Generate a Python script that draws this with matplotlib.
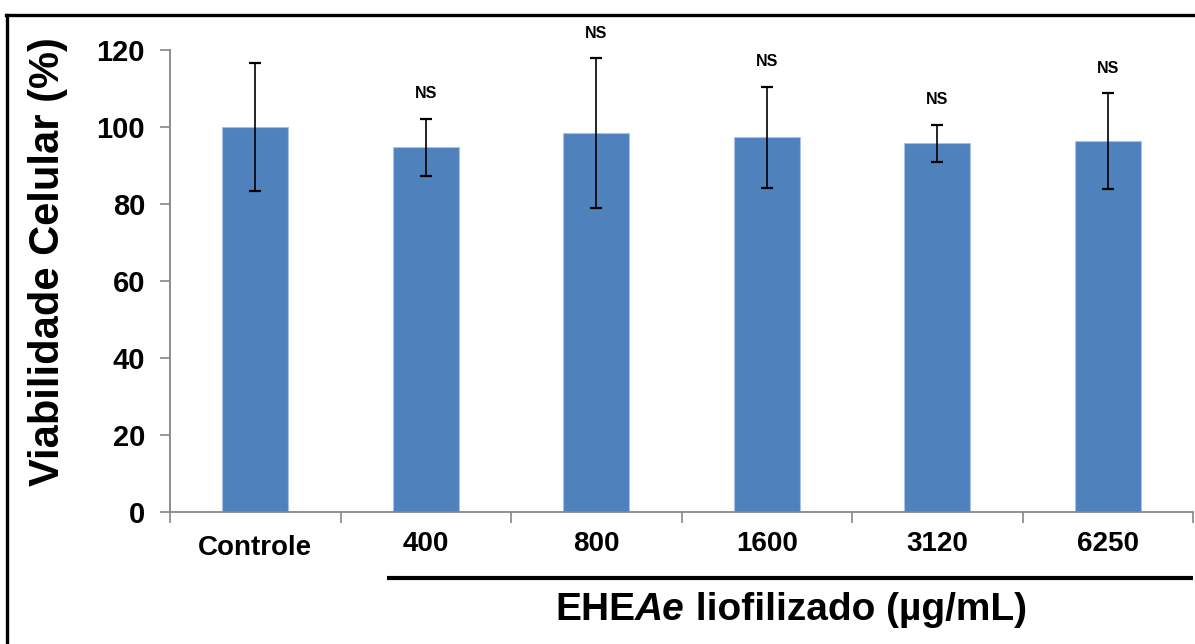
import numpy as np
import matplotlib
matplotlib.use("Agg")
import matplotlib.pyplot as plt
from matplotlib.lines import Line2D

plt.rcParams['font.family'] = ['Liberation Sans', 'DejaVu Sans']

# dados de viabilidade celular
categorias = ['Controle', '400', '800', '1600', '3120', '6250']
viabilidade = [100.0, 94.7, 98.4, 97.3, 95.8, 96.3]
desvio = [16.5, 7.5, 19.5, 13.1, 4.8, 12.5]
significancia = ['', 'NS', 'NS', 'NS', 'NS', 'NS']

azul = '#4F81BD'
cinza = '#868686'

fig = plt.figure(figsize=(11.95, 6.44), dpi=100)
ax = fig.add_axes([170 / 1195, 1 - 512 / 644, 1023 / 1195, 462 / 644])

x = np.arange(len(categorias))
ax.bar(x, viabilidade, width=0.39, color=azul, edgecolor='#A9C1E2', linewidth=0.8, zorder=2)
ax.errorbar(x, viabilidade, yerr=desvio, fmt='none', ecolor='black',
            elinewidth=1.2, capsize=4, capthick=1.6, zorder=3)

for xi, v, d, s in zip(x, viabilidade, desvio, significancia):
    if s:
        ax.annotate(s, (xi, v + d), xytext=(0, 18), textcoords='offset points',
                    ha='center', va='center', fontsize=11.5, fontweight='bold',
                    annotation_clip=False)

ax.set_xlim(-0.5, len(categorias) - 0.5)
ax.set_ylim(0, 120)
ax.set_yticks(np.arange(0, 121, 20))
ax.tick_params(axis='y', direction='out', length=7, width=1.2, color=cinza,
               labelsize=21, pad=11)
for lbl in ax.get_yticklabels():
    lbl.set_fontweight('bold')

ax.set_xticks(x)
ax.set_xticklabels(categorias, fontsize=20, fontweight='bold')
ax.tick_params(axis='x', length=0, pad=14)
ax.set_xticks(np.arange(-0.5, len(categorias)), minor=True)
ax.tick_params(axis='x', which='minor', direction='out', length=8, width=1.2, color=cinza)
# "Controle" fica um pouco mais abaixo que as concentrações
ax.get_xticklabels()[0].set_y(-0.008)

for lado in ['top', 'right']:
    ax.spines[lado].set_visible(False)
for lado in ['left', 'bottom']:
    ax.spines[lado].set_color(cinza)
    ax.spines[lado].set_linewidth(1.3)

# rótulo do eixo y
fig.text(48 / 1195, 1 - 262 / 644, 'Viabilidade Celular (%)', rotation=90,
         ha='center', va='center', fontsize=30, fontweight='bold')

# linha que agrupa as concentrações
fig.add_artist(Line2D([387 / 1195, 1193 / 1195], [1 - 578 / 644] * 2,
                      color='black', linewidth=3, solid_capstyle='butt'))

# título do eixo x com "Ae" em itálico
partes = [('EHE', 'normal'), ('Ae', 'italic'), (' liofilizado (µg/mL)', 'normal')]
textos = []
for txt, estilo in partes:
    textos.append(fig.text(0, 1 - 610 / 644, txt, ha='left', va='center',
                           fontsize=28, fontweight='bold', fontstyle=estilo))
fig.canvas.draw()
rend = fig.canvas.get_renderer()
larguras = [t.get_window_extent(rend).width for t in textos]
pos = 791 - sum(larguras) / 2
for t, w in zip(textos, larguras):
    t.set_x(pos / 1195)
    pos += w

# moldura
fig.add_artist(Line2D([6 / 1195, 1.0], [1 - 15 / 644] * 2, color='black', linewidth=2.4))
fig.add_artist(Line2D([7 / 1195] * 2, [0, 1 - 15 / 644], color='black', linewidth=2.4))

fig.savefig('out.png', dpi=100)
